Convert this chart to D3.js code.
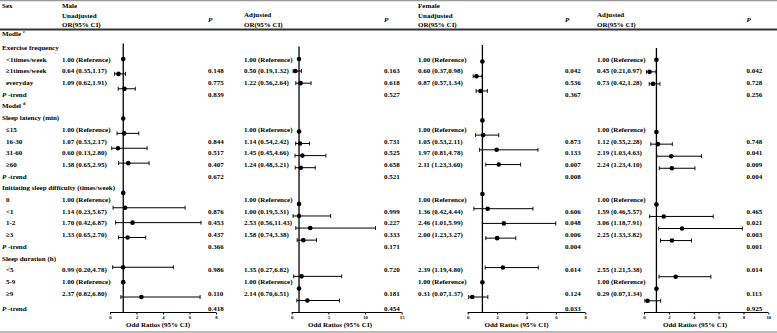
<!DOCTYPE html>
<html><head><meta charset="utf-8">
<script src="https://cdn.jsdelivr.net/npm/d3@7"></script>
<style>
body{margin:0;background:#fff}
svg{display:block}
text{font-family:"Liberation Serif","Times New Roman",serif;font-weight:bold;font-size:7px;fill:#000}
</style>
</head><body>
<svg id="chart" width="777" height="333"></svg>
<script>
// ---------- DATA ----------
const groups = ["Exercise frequency","Sleep latency (min)","Initiating sleep difficulty (times/week)","Sleep duration (h)"];
const categories = ["<1times/week","≥1times/week","everyday","≤15","16-30","31-60","≥60","0","<1","1-2","≥3","<5","5-9","≥9"];
const categoryGroup = [0,0,0,1,1,1,1,2,2,2,2,3,3,3];

const maleUnadjOR   = [1.00,0.64,1.09,1.00,1.07,0.60,1.38,1.00,1.14,1.70,1.33,0.99,1.00,2.37];
const maleUnadjLow  = [null,0.35,0.62,null,0.53,0.13,0.65,null,0.23,0.42,0.65,0.20,null,0.82];
const maleUnadjHigh = [null,1.17,1.91,null,2.17,2.80,2.95,null,5.67,6.87,2.70,4.78,null,6.80];
const maleUnadjP    = [null,"0.148","0.775",null,"0.844","0.517","0.407",null,"0.876","0.453","0.437","0.986",null,"0.110"];
const maleUnadjTrend = ["0.839","0.672","0.366","0.418"];

const maleAdjOR   = [1.00,0.50,1.22,1.00,1.14,1.45,1.24,1.00,1.00,2.53,1.58,1.35,1.00,2.14];
const maleAdjLow  = [null,0.19,0.56,null,0.54,0.45,0.48,null,0.19,0.56,0.74,0.27,null,0.70];
const maleAdjHigh = [null,1.32,2.64,null,2.42,4.66,3.21,null,5.31,11.43,3.38,6.82,null,6.51];
const maleAdjP    = [null,"0.163","0.618",null,"0.731","0.525","0.658",null,"0.999","0.227","0.333","0.720",null,"0.181"];
const maleAdjTrend = ["0.527","0.521","0.171","0.454"];

const femaleUnadjOR   = [1.00,0.60,0.87,1.00,1.05,1.97,2.11,1.00,1.36,2.46,2.00,2.39,1.00,0.31];
const femaleUnadjLow  = [null,0.37,0.57,null,0.53,0.81,1.23,null,0.42,1.01,1.23,1.19,null,0.07];
const femaleUnadjHigh = [null,0.98,1.34,null,2.11,4.78,3.60,null,4.44,5.99,3.27,4.80,null,1.37];
const femaleUnadjP    = [null,"0.042","0.536",null,"0.873","0.133","0.007",null,"0.606","0.048","0.006","0.014",null,"0.124"];
const femaleUnadjTrend = ["0.367","0.008","0.004","0.033"];

const femaleAdjOR   = [1.00,0.45,0.73,1.00,1.12,2.19,2.24,1.00,1.59,3.06,2.25,2.55,1.00,0.29];
const femaleAdjLow  = [null,0.21,0.42,null,0.55,1.03,1.23,null,0.46,1.18,1.33,1.21,null,0.07];
const femaleAdjHigh = [null,0.97,1.28,null,2.28,4.63,4.10,null,5.57,7.91,3.82,5.38,null,1.34];
const femaleAdjP    = [null,"0.042","0.728",null,"0.748","0.041","0.009",null,"0.465","0.021","0.003","0.014",null,"0.113"];
const femaleAdjTrend = ["0.256","0.004","0.001","0.925"];

const ticksUnadj = [0,2,4,6,8];
const ticksMaleAdj = [0,5,10,15];
const ticksFemaleAdj = [0,2,4,6,8,10];

// ---------- LAYOUT ----------
const svg = d3.select("#chart");
const fmt = d3.format(".2f");

// table rows
const rows = [];
groups.forEach((g,gi)=>{
  if(gi===0) rows.push({type:"model",label:"Modle",sup:"c"});
  if(gi===1) rows.push({type:"model",label:"Model",sup:"d"});
  rows.push({type:"group",label:g});
  categories.forEach((c,ci)=>{ if(categoryGroup[ci]===gi) rows.push({type:"cat",label:c,ci}); });
  rows.push({type:"trend",gi});
});
const textY = d3.scaleLinear().domain([2,22]).range([59.3,293.3]);
function rowY(r){
  if(r===0) return 33.3;
  if(r===rows.length-1) return 308.7;
  return textY(r);
}

// lines
svg.append("line").attr("x1",0).attr("x2",777).attr("y1",0.7).attr("y2",0.7).attr("stroke","#999").attr("stroke-width",1.2);
svg.append("line").attr("x1",0).attr("x2",777).attr("y1",29.5).attr("y2",29.5).attr("stroke","#333").attr("stroke-width",2);
svg.append("line").attr("x1",0).attr("x2",777).attr("y1",332).attr("y2",332).attr("stroke","#bbb").attr("stroke-width",2);

function txt(x,y,s){ return svg.append("text").attr("x",x).attr("y",y).attr("dy","0.33em").text(s); }
function italicP(x,y){ return svg.append("text").attr("x",x).attr("y",y).attr("dy","0.33em").style("font-style","italic").text("P"); }

// headers
txt(2,6,"Sex");
txt(62,6,"Male"); txt(62,15.5,"Unadjusted"); txt(62,25,"OR(95% CI)");
italicP(208,19.5);
txt(244,15,"Adjusted"); txt(244,25,"OR(95% CI)");
italicP(384,19.5);
txt(418,6,"Female"); txt(418,15.5,"Unadjusted"); txt(418,25,"OR(95% CI)");
italicP(565,19.5);
txt(597,15,"Adjusted"); txt(597,25,"OR(95% CI)");
italicP(746.5,19.5);

// first column
rows.forEach((r,i)=>{
  const y = rowY(i);
  if(r.type==="model"){
    const t = txt(2,y,r.label);
    t.append("tspan").attr("dx",2).attr("dy",-3).style("font-size","4.5px").text(r.sup);
  } else if(r.type==="group"){
    txt(2,y,r.label);
  } else if(r.type==="cat"){
    txt(6,y,r.label);
  } else {
    const t = svg.append("text").attr("x",2).attr("y",y).attr("dy","0.33em");
    t.append("tspan").style("font-style","italic").text("P");
    t.append("tspan").text(" -trend");
  }
});

// panels
const panels = [
  {or:maleUnadjOR,lo:maleUnadjLow,hi:maleUnadjHigh,p:maleUnadjP,trend:maleUnadjTrend,
   textX:62,pX:208,range:[110,216],max:8,ticks:ticksUnadj,mode:"unadj",y0:59,y1:297,lineTop:43.5,labelX:158},
  {or:maleAdjOR,lo:maleAdjLow,hi:maleAdjHigh,p:maleAdjP,trend:maleAdjTrend,
   textX:244,pX:384,range:[291.7,401.7],max:15,ticks:ticksMaleAdj,mode:"adj",y0:59,y1:300.5,lineTop:46.5,labelX:340},
  {or:femaleUnadjOR,lo:femaleUnadjLow,hi:femaleUnadjHigh,p:femaleUnadjP,trend:femaleUnadjTrend,
   textX:418,pX:565,range:[467.7,585.3],max:8,ticks:ticksUnadj,mode:"unadj",y0:61.5,y1:297,lineTop:45,labelX:516.5},
  {or:femaleAdjOR,lo:femaleAdjLow,hi:femaleAdjHigh,p:femaleAdjP,trend:femaleAdjTrend,
   textX:597,pX:746.5,range:[644,768.3],max:10,ticks:ticksFemaleAdj,mode:"adj",y0:59.8,y1:300.8,lineTop:48,labelX:695}
];

const axisY = 312.5;

panels.forEach(P=>{
  // text columns
  rows.forEach((r,i)=>{
    const y = rowY(i);
    if(r.type==="cat"){
      const ci=r.ci;
      const s = P.lo[ci]==null ? fmt(P.or[ci])+" (Reference)"
        : `${fmt(P.or[ci])} (${fmt(P.lo[ci])},${fmt(P.hi[ci])})`;
      txt(P.textX,y,s);
      if(P.p[ci]) txt(P.pX,y,P.p[ci]);
    } else if(r.type==="trend"){
      txt(P.pX,y,P.trend[r.gi]);
    }
  });

  // forest plot
  const x = d3.scaleLinear().domain([0,P.max]).range(P.range);
  // slot indices
  let slots;
  if(P.mode==="unadj"){
    slots = categories.map((c,ci)=>ci+categoryGroup[ci]);
  } else {
    slots = categories.map((c,ci)=>rows.findIndex(r=>r.type==="cat"&&r.ci===ci)-2);
  }
  const maxSlot = d3.max(slots);
  const y = d3.scaleLinear().domain([0,maxSlot]).range([P.y0,P.y1]);

  const g = svg.append("g");
  g.append("line").attr("x1",x(1)).attr("x2",x(1)).attr("y1",P.lineTop).attr("y2",axisY)
    .attr("stroke","#000").attr("stroke-width",1.3);

  const axis = d3.axisBottom(x).tickValues(P.ticks).tickSize(2).tickPadding(1.5).tickFormat(d3.format("d"));
  const ag = g.append("g").attr("transform",`translate(0,${axisY})`).call(axis);
  ag.select(".domain").attr("stroke","#000").attr("stroke-width",1).attr("d",`M${P.range[0]},0H${P.range[1]}`);
  ag.selectAll(".tick line").attr("stroke","#000");
  ag.selectAll(".tick text").style("font-size","4.8px").style("font-family","Liberation Serif").style("font-weight","bold").attr("fill","#000");

  categories.forEach((c,ci)=>{
    const yy = y(slots[ci]);
    if(P.lo[ci]!=null){
      g.append("line").attr("x1",x(P.lo[ci])).attr("x2",x(P.hi[ci])).attr("y1",yy).attr("y2",yy)
        .attr("stroke","#000").attr("stroke-width",1);
      [P.lo[ci],P.hi[ci]].forEach(v=>{
        g.append("line").attr("x1",x(v)).attr("x2",x(v)).attr("y1",yy-2).attr("y2",yy+2)
          .attr("stroke","#000").attr("stroke-width",0.9);
      });
    }
    g.append("circle").attr("cx",x(P.or[ci])).attr("cy",yy).attr("r",2.3).attr("fill","#000");
  });

  svg.append("text").attr("x",P.labelX).attr("y",325).attr("dy","0.33em")
    .attr("text-anchor","middle").text("Odd Ratios (95% CI)");
});
</script>
</body></html>
